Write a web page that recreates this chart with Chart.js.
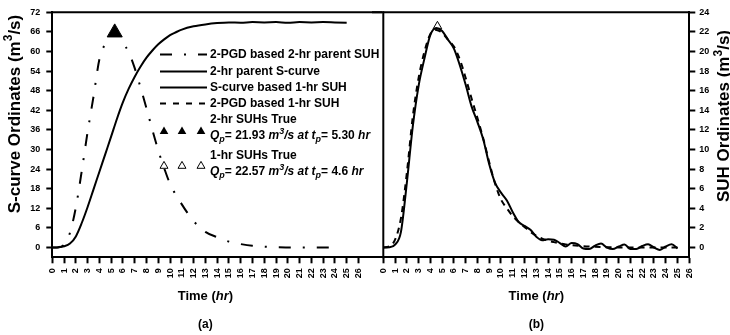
<!DOCTYPE html>
<html>
<head>
<meta charset="utf-8">
<script src="https://cdn.jsdelivr.net/npm/chart.js@4.4.1/dist/chart.umd.min.js"></script>
<style>
  html, body { margin: 0; padding: 0; background: #fff; }
  #wrap { position: relative; width: 730px; height: 335px; overflow: hidden; }
  canvas { position: absolute; top: 0; }
  #ca { left: 0; }
  #cb { left: 372px; }
</style>
</head>
<body>
<div id="wrap">
  <canvas id="ca" width="382" height="335"></canvas>
  <canvas id="cb" width="358" height="335"></canvas>
</div>
<script>
// ── Data ─────────────────────────────────────────────────────────────────────
// (a) 2-PGD based 2-hr parent SUH, m3/s (SUH scale)
const suh2Time = [0, 0.5, 1, 1.5, 2, 2.5, 3, 3.5, 4, 4.5, 5, 5.5, 6, 6.5, 7, 7.5, 8, 8.5, 9, 9.5, 10, 11, 12, 13, 14, 15, 16, 17, 18, 19, 20, 21, 22, 23, 24];
const suh2Flow = [0, 0, 0.3, 1.5, 4.1, 7.8, 11.8, 15.4, 19.2, 20.8, 21.6, 21.9, 20.9, 19.9, 18.3, 16.3, 14.2, 12.0, 9.9, 8.1, 6.5, 4.4, 2.7, 1.6, 1.05, 0.6, 0.35, 0.17, 0.08, 0.03, 0.01, 0, 0, 0, 0];

// (a) 2-hr parent S-curve, m3/s (S-curve scale)
const sCurveTime = [0, 0.5, 1, 1.5, 2, 2.5, 3, 3.5, 4, 4.5, 5, 5.5, 6, 6.5, 7, 7.5, 8, 8.5, 9, 9.5, 10, 10.5, 11, 12, 13, 14, 15, 16, 17, 18, 19, 20, 21, 22, 23, 24, 25];
const sCurveFlow = [0, 0.1, 0.4, 1.2, 3.4, 7.5, 12.4, 17.8, 23.2, 28.6, 34.0, 39.5, 44.5, 48.7, 52.3, 55.4, 58.1, 60.3, 62.2, 63.7, 65.0, 65.9, 66.7, 67.7, 68.3, 68.7, 68.9, 68.8, 69.0, 68.9, 69.0, 68.8, 69.0, 68.9, 69.0, 68.9, 68.8];

// (b) S-curve based 1-hr SUH, m3/s
const suh1Time = [0, 0.5, 1, 1.5, 2, 2.5, 3, 3.5, 4, 4.5, 5, 5.5, 6, 6.5, 7, 7.5, 8, 8.5, 9, 9.5, 10, 10.5, 11, 11.5, 12, 12.5, 13, 13.5, 14, 14.5, 15, 15.5, 16, 16.5, 17, 17.5, 18, 18.5, 19, 19.5, 20, 20.5, 21, 21.5, 22, 22.5, 23, 23.5, 24, 24.5, 25];
const suh1Flow = [0, 0.02, 0.3, 1.6, 6.6, 12.3, 16.5, 19.3, 21.7, 22.4, 22.1, 21.2, 20.3, 18.6, 16.6, 14.4, 12.8, 11.0, 8.5, 6.6, 5.6, 4.8, 3.6, 2.6, 2.2, 1.8, 1.1, 0.75, 0.85, 0.8, 0.45, 0.1, 0.45, 0.35, -0.1, -0.15, 0.2, 0.4, 0.0, -0.15, 0.1, 0.3, -0.15, -0.15, 0.15, 0.33, 0.0, -0.25, 0.1, 0.33, -0.1];

// (b) 2-PGD based 1-hr SUH, m3/s
const pgd1Time = [0, 0.5, 1, 1.5, 2, 2.5, 3, 3.5, 4, 4.5, 5, 5.5, 6, 6.5, 7, 7.5, 8, 8.5, 9, 9.5, 10, 10.5, 11, 11.5, 12, 12.5, 13, 13.5, 14, 14.5, 15, 15.5, 16, 17, 18, 19, 20, 21, 22, 23, 24, 25];
const pgd1Flow = [0, 0.1, 0.8, 3.0, 7.6, 13.3, 17.3, 20.0, 21.8, 22.2, 21.9, 21.2, 20.5, 19.2, 17.3, 15.2, 13.2, 11.1, 8.7, 6.5, 4.9, 4.0, 3.2, 2.6, 2.1, 1.6, 1.2, 0.9, 0.7, 0.55, 0.42, 0.32, 0.24, 0.13, 0.07, 0.03, 0.01, 0, 0, 0, 0, 0];

// True peaks (time hr, flow m3/s)
const peak2hrTime = [5.30];
const peak2hrFlow = [21.93];
const peak1hrTime = [4.6];
const peak1hrFlow = [22.57];

// Tick labels
const timeTicks = [0, 1, 2, 3, 4, 5, 6, 7, 8, 9, 10, 11, 12, 13, 14, 15, 16, 17, 18, 19, 20, 21, 22, 23, 24, 25, 26];
const sCurveTicks = [0, 6, 12, 18, 24, 30, 36, 42, 48, 54, 60, 66, 72];
const suhTicks = [0, 2, 4, 6, 8, 10, 12, 14, 16, 18, 20, 22, 24];

// ── Helpers ──────────────────────────────────────────────────────────────────
const FONT = '"Liberation Sans", Arial, Helvetica, sans-serif';
const pts = (xs, ys) => xs.map((x, i) => ({ x, y: ys[i] }));
const fixTicks = arr => s => { s.ticks = arr.map(v => ({ value: v })); };

// parts: [text, italic, shift]  shift: 1 = superscript, -1 = subscript
function rich(ctx, parts, x, y, size, align) {
  const fnt = p => `${p[1] ? 'italic ' : ''}bold ${p[2] ? Math.round(size * 0.72) : size}px ${FONT}`;
  let w = 0;
  parts.forEach(p => { ctx.font = fnt(p); w += ctx.measureText(p[0]).width; });
  let cx = align === 'center' ? x - w / 2 : x;
  ctx.textAlign = 'left';
  ctx.textBaseline = 'middle';
  ctx.fillStyle = '#000';
  parts.forEach(p => {
    ctx.font = fnt(p);
    const dy = p[2] === 1 ? -size * 0.35 : p[2] === -1 ? size * 0.32 : 0;
    ctx.fillText(p[0], cx, y + dy);
    cx += ctx.measureText(p[0]).width;
  });
}

function tri(ctx, x, y, r, filled) {
  ctx.beginPath();
  for (let k = 0; k < 3; k++) {
    const ang = k * 2 * Math.PI / 3;
    ctx.lineTo(x + Math.sin(ang) * r, y - Math.cos(ang) * r);
  }
  ctx.closePath();
  if (filled) ctx.fill(); else ctx.stroke();
}

function hline(ctx, x0, x1, y, dash) {
  ctx.setLineDash(dash || []);
  ctx.beginPath();
  ctx.moveTo(x0, y);
  ctx.lineTo(x1, y);
  ctx.stroke();
  ctx.setLineDash([]);
}

const tickFont = { family: FONT, size: 9, weight: 'bold' };

function timeAxis(max) {
  return {
    type: 'linear', min: 0, max: max,
    afterBuildTicks: fixTicks(timeTicks),
    ticks: { font: tickFont, color: '#000', autoSkip: false, minRotation: 90, maxRotation: 90, padding: 5, callback: v => v },
    grid: { drawOnChartArea: false, tickLength: 6, tickWidth: 2, tickColor: '#000' },
    border: { display: true, width: 2, color: '#000' },
    afterFit: s => { s.height = 77.7; s.paddingLeft = 0; s.paddingRight = 0; }
  };
}

// ── Panel (a) ────────────────────────────────────────────────────────────────
const panelA = {
  id: 'panelA',
  afterDraw(chart) {
    const { ctx, chartArea: a, scales } = chart;
    ctx.save();
    ctx.strokeStyle = '#000';
    ctx.fillStyle = '#000';
    ctx.lineWidth = 2;
    hline(ctx, a.left - 1, a.right, a.top);

    // legend
    const lx0 = 160, lx1 = 207, tx = 210;
    hline(ctx, lx0, lx1, 54.5, [12, 12, 2, 12]);
    rich(ctx, [['2-PGD based 2-hr parent SUH', 0, 0]], tx, 54.5, 12);
    hline(ctx, lx0, lx1, 71.5);
    rich(ctx, [['2-hr parent S-curve', 0, 0]], tx, 71.5, 12);
    hline(ctx, lx0, lx1, 87.5);
    rich(ctx, [['S-curve based 1-hr SUH', 0, 0]], tx, 87.5, 12);
    hline(ctx, lx0, lx1, 103.5, [6, 7]);
    rich(ctx, [['2-PGD based 1-hr SUH', 0, 0]], tx, 103.5, 12);

    rich(ctx, [['2-hr SUHs True', 0, 0]], tx, 120, 12);
    rich(ctx, [['Q', 1, 0], ['p', 1, -1], ['= 21.93 ', 0, 0], ['m', 1, 0], ['3', 1, 1], ['/s at t', 1, 0], ['p', 1, -1], ['= 5.30 ', 0, 0], ['hr', 1, 0]], tx, 136, 12);
    rich(ctx, [['1-hr SUHs True', 0, 0]], tx, 156, 12);
    rich(ctx, [['Q', 1, 0], ['p', 1, -1], ['= 22.57 ', 0, 0], ['m', 1, 0], ['3', 1, 1], ['/s at t', 1, 0], ['p', 1, -1], ['= 4.6 ', 0, 0], ['hr', 1, 0]], tx, 171.5, 12);
    ctx.lineWidth = 1;
    [164, 182, 201].forEach(x => {
      tri(ctx, x, 131.5, 5, true);
      tri(ctx, x, 166, 4.6, false);
    });

    // axis titles
    const cx = scales.x.getPixelForValue(13);
    rich(ctx, [['Time (', 0, 0], ['hr', 1, 0], [')', 0, 0]], cx, 296, 13, 'center');
    rich(ctx, [['(a)', 0, 0]], cx, 325, 12, 'center');
    ctx.translate(15, 114);
    ctx.rotate(-Math.PI / 2);
    rich(ctx, [['S-curve Ordinates (m', 0, 0], ['3', 0, 1], ['/s)', 0, 0]], 0, 0, 17, 'center');
    ctx.restore();
  }
};

new Chart(document.getElementById('ca'), {
  type: 'line',
  data: {
    datasets: [
      {
        label: '2-PGD based 2-hr parent SUH',
        data: pts(suh2Time, suh2Flow), yAxisID: 'y2',
        borderColor: '#000', borderWidth: 2, borderDash: [12, 12, 2, 12],
        pointRadius: 0, cubicInterpolationMode: 'monotone', fill: false
      },
      {
        label: '2-hr parent S-curve',
        data: pts(sCurveTime, sCurveFlow), yAxisID: 'y',
        borderColor: '#000', borderWidth: 2,
        pointRadius: 0, cubicInterpolationMode: 'monotone', fill: false
      },
      {
        label: '2-hr SUHs True',
        data: pts(peak2hrTime, peak2hrFlow), yAxisID: 'y2',
        showLine: false, pointStyle: 'triangle', pointRadius: 8.7,
        pointBackgroundColor: '#000', pointBorderColor: '#000', pointBorderWidth: 1
      }
    ]
  },
  options: {
    responsive: false, animation: false, devicePixelRatio: 1,
    layout: { autoPadding: false, padding: { top: 12.3, left: 0, right: 0, bottom: 0 } },
    plugins: { legend: { display: false }, tooltip: { enabled: false } },
    scales: {
      x: timeAxis(28),
      y: {
        type: 'linear', position: 'left', min: -3, max: 72,
        afterBuildTicks: fixTicks(sCurveTicks),
        ticks: { font: tickFont, color: '#000', padding: 6, callback: v => v },
        grid: { drawOnChartArea: false, tickLength: 6, tickWidth: 2, tickColor: '#000' },
        border: { display: true, width: 2, color: '#000' },
        afterFit: s => { s.width = 52.3; s.paddingTop = 0; s.paddingBottom = 0; }
      },
      y2: { type: 'linear', display: false, min: -1, max: 24 }
    }
  },
  plugins: [panelA]
});

// ── Panel (b) ────────────────────────────────────────────────────────────────
const panelB = {
  id: 'panelB',
  afterDraw(chart) {
    const { ctx, chartArea: a, scales } = chart;
    ctx.save();
    ctx.strokeStyle = '#000';
    ctx.lineWidth = 2;
    hline(ctx, a.left - 12, a.right, a.top);
    ctx.beginPath();
    ctx.moveTo(a.left, a.top - 1);
    ctx.lineTo(a.left, a.bottom + 1);
    ctx.stroke();

    const cx = scales.x.getPixelForValue(13);
    rich(ctx, [['Time (', 0, 0], ['hr', 1, 0], [')', 0, 0]], cx, 296, 13, 'center');
    rich(ctx, [['(b)', 0, 0]], cx, 325, 12, 'center');
    ctx.translate(a.right + 35, 116);
    ctx.rotate(-Math.PI / 2);
    rich(ctx, [['SUH Ordinates (m', 0, 0], ['3', 0, 1], ['/s)', 0, 0]], 0, 0, 17, 'center');
    ctx.restore();
  }
};

new Chart(document.getElementById('cb'), {
  type: 'line',
  data: {
    datasets: [
      {
        label: 'S-curve based 1-hr SUH',
        data: pts(suh1Time, suh1Flow),
        borderColor: '#000', borderWidth: 2,
        pointRadius: 0, cubicInterpolationMode: 'monotone', fill: false
      },
      {
        label: '2-PGD based 1-hr SUH',
        data: pts(pgd1Time, pgd1Flow),
        borderColor: '#000', borderWidth: 2, borderDash: [6, 5],
        pointRadius: 0, cubicInterpolationMode: 'monotone', fill: false
      },
      {
        label: '1-hr SUHs True',
        data: pts(peak1hrTime, peak1hrFlow),
        showLine: false, pointStyle: 'triangle', pointRadius: 5,
        pointBackgroundColor: 'rgba(255,255,255,0)', pointBorderColor: '#000', pointBorderWidth: 1
      }
    ]
  },
  options: {
    responsive: false, animation: false, devicePixelRatio: 1,
    layout: { autoPadding: false, padding: { top: 12.3, left: 11.3, right: 0, bottom: 0 } },
    plugins: { legend: { display: false }, tooltip: { enabled: false } },
    scales: {
      x: timeAxis(26),
      y: {
        type: 'linear', position: 'right', min: -1, max: 24,
        afterBuildTicks: fixTicks(suhTicks),
        ticks: { font: tickFont, color: '#000', padding: 4, callback: v => v },
        grid: { drawOnChartArea: false, tickLength: 6, tickWidth: 2, tickColor: '#000' },
        border: { display: true, width: 2, color: '#000' },
        afterFit: s => { s.width = 40.7; s.paddingTop = 0; s.paddingBottom = 0; }
      }
    }
  },
  plugins: [panelB]
});
</script>
</body>
</html>
